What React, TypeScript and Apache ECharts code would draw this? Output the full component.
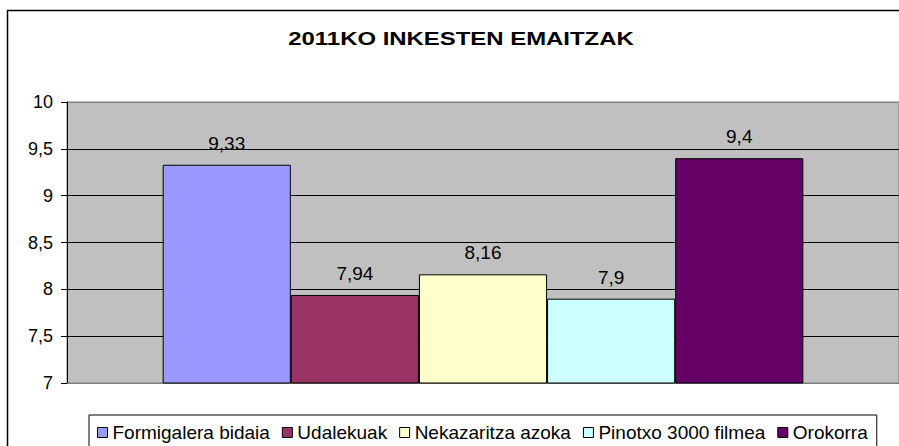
import React, { useEffect, useRef } from "react";
import * as echarts from "echarts";

const titleText = "2011KO INKESTEN EMAITZAK";
const categories = [""];
const seriesNames = [
  "Formigalera bidaia",
  "Udalekuak",
  "Nekazaritza azoka",
  "Pinotxo 3000 filmea",
  "Orokorra",
];
const seriesValues = [9.33, 7.94, 8.16, 7.9, 9.4];
const seriesColors = ["#9999FF", "#993366", "#FFFFCC", "#CCFFFF", "#660066"];
const yMin = 7;
const yMax = 10;
const yInterval = 0.5;

const FONT = "'Liberation Sans', Arial, sans-serif";
const fmt = (v: number) => String(v).replace(".", ",");

export default function App() {
  const ref = useRef<HTMLDivElement>(null);
  useEffect(() => {
    if (!ref.current) return;
    const chart = echarts.init(ref.current, undefined, { renderer: "svg" });
    chart.setOption({
      animation: false,
      backgroundColor: "#FFFFFF",
      textStyle: { fontFamily: FONT },
      graphic: [
        {
          type: "rect",
          shape: { x: 7.5, y: 10.5, width: 1000, height: 1000 },
          style: { fill: "none", stroke: "#000", lineWidth: 1.5 },
          z: 10,
        },
        {
          type: "text",
          x: 461,
          y: 39,
          originX: 0,
          originY: 0,
          scaleX: 1.33,
          style: {
            text: titleText,
            font: `bold 18px ${FONT}`,
            fill: "#000",
            textAlign: "center",
            textVerticalAlign: "middle",
          },
        },
      ],
      grid: {
        left: 67,
        right: 0,
        top: 102,
        bottom: 63,
        show: true,
        backgroundColor: "#C0C0C0",
        borderColor: "#808080",
        borderWidth: 1,
      },
      legend: {
        left: 89,
        top: 415,
        orient: "horizontal",
        data: seriesNames,
        itemWidth: 10,
        itemHeight: 10,
        itemGap: 12,
        padding: [8, 9, 8, 8],
        borderColor: "#000",
        borderWidth: 1,
        backgroundColor: "#FFFFFF",
        icon: "rect",
        itemStyle: { borderColor: "#000", borderWidth: 1 },
        textStyle: { fontSize: 19, color: "#000", fontFamily: FONT, padding: [0, 0, 0, 0] },
      },
      xAxis: {
        type: "category",
        data: categories,
        axisLine: { show: true, lineStyle: { color: "#808080" } },
        axisTick: { show: false },
        axisLabel: { show: false },
      },
      yAxis: {
        type: "value",
        min: yMin,
        max: yMax,
        interval: yInterval,
        axisLine: { show: true, lineStyle: { color: "#000", width: 1 } },
        axisTick: { show: true, inside: false, length: 6, lineStyle: { color: "#000" } },
        axisLabel: {
          color: "#000",
          fontSize: 18,
          margin: 14,
          fontFamily: FONT,
          formatter: (v: number) => fmt(v),
        },
        splitLine: {
          show: true,
          lineStyle: {
            color: ["#808080", "#000", "#000", "#000", "#000", "#000", "#808080"],
            width: 1,
          },
        },
      },
      series: seriesNames.map((name, i) => ({
        name,
        type: "bar",
        data: [seriesValues[i]],
        barGap: "0%",
        barCategoryGap: "23%",
        itemStyle: { color: seriesColors[i], borderColor: "#000", borderWidth: 1 },
        label: {
          show: true,
          position: "top",
          distance: 12,
          color: "#000",
          fontSize: 19,
          fontFamily: FONT,
          formatter: (p: any) => fmt(p.value),
        },
      })),
    });
    return () => chart.dispose();
  }, []);
  return (
    <div
      ref={ref}
      style={{ position: "fixed", left: 0, top: 0, width: 899, height: 446 }}
    />
  );
}
